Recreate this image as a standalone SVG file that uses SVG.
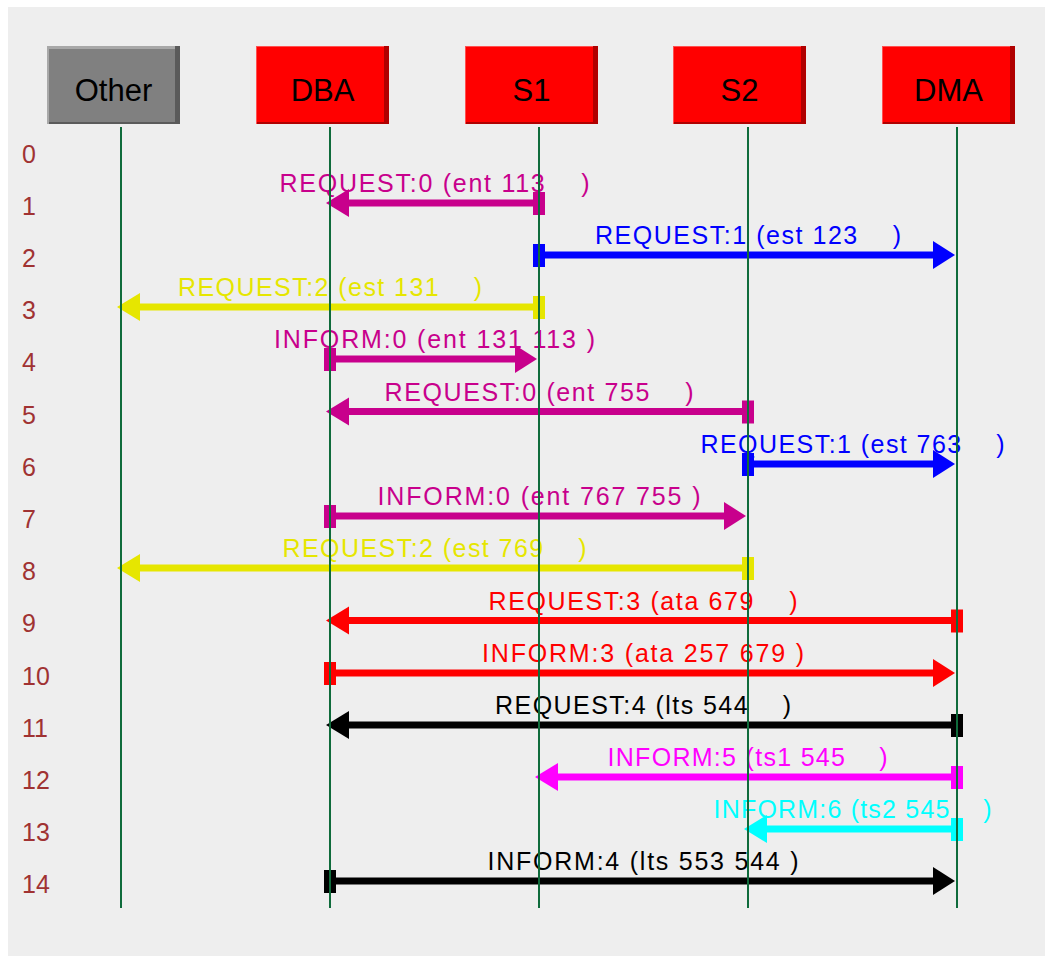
<svg xmlns="http://www.w3.org/2000/svg" width="1056" height="957" viewBox="0 0 1056 957">
  <style>
    .panel { fill: #eeeeee; }
    .lifeline { stroke: #0f6b3b; stroke-width: 2; }
    .box-red { fill: #ff0000; }
    .box-red-hi { fill: #ff5050; }
    .box-red-shade { fill: #b00000; }
    .box-grey { fill: #808080; }
    .box-grey-hi { fill: #a8a8a8; }
    .box-grey-shade { fill: #5a5a5a; }
    .node-label { font-family: "Liberation Sans", Arial, sans-serif; font-size: 31px; fill: #000; text-anchor: middle; }
    .row-num { font-family: "Liberation Sans", Arial, sans-serif; font-size: 25px; fill: #a03232; }
    .msg line { stroke: currentColor; stroke-width: 7; }
    .msg polygon, .msg rect { fill: currentColor; }
    .msg text { fill: currentColor; font-family: "Liberation Sans", Arial, sans-serif; font-size: 25px; text-anchor: middle; white-space: pre; }
    .mag { color: #c8008c; }
    .blue { color: #0000ff; }
    .yellow { color: #e6e600; }
    .red { color: #ff0000; }
    .black { color: #000000; }
    .pink { color: #ff00ff; }
    .cyan { color: #00ffff; }
  </style>

  <!-- backdrop -->
  <rect x="0" y="0" width="1056" height="957" fill="#ffffff"/>
  <rect class="panel" x="8" y="7" width="1037" height="949"/>

  <!-- step numbers -->
  <g id="steps">
    <text class="row-num" x="22" y="162.5">0</text>
    <text class="row-num" x="22" y="214.7">1</text>
    <text class="row-num" x="22" y="266.9">2</text>
    <text class="row-num" x="22" y="319.1">3</text>
    <text class="row-num" x="22" y="371.3">4</text>
    <text class="row-num" x="22" y="423.5">5</text>
    <text class="row-num" x="22" y="475.7">6</text>
    <text class="row-num" x="22" y="527.9">7</text>
    <text class="row-num" x="22" y="580.1">8</text>
    <text class="row-num" x="22" y="632.3">9</text>
    <text class="row-num" x="22" y="684.5">10</text>
    <text class="row-num" x="22" y="736.7">11</text>
    <text class="row-num" x="22" y="788.9">12</text>
    <text class="row-num" x="22" y="841.1">13</text>
    <text class="row-num" x="22" y="893.3">14</text>
  </g>

  <!-- messages -->
  <g id="connectors">
    <!-- 1: S1 -> DBA -->
    <g class="msg mag">
      <text x="434.5" y="192" textLength="310" xml:space="preserve">REQUEST:0 (ent 113    )</text>
      <line x1="539" y1="203" x2="345" y2="203"/>
      <rect x="533" y="192" width="12" height="23"/>
      <polygon points="326,203 349,189 349,217"/>
    </g>
    <!-- 2: S1 -> DMA -->
    <g class="msg blue">
      <text x="748" y="244" textLength="306" xml:space="preserve">REQUEST:1 (est 123    )</text>
      <line x1="539" y1="255" x2="937" y2="255"/>
      <rect x="533" y="244" width="12" height="23"/>
      <polygon points="955,255 933,241 933,269"/>
    </g>
    <!-- 3: S1 -> Other -->
    <g class="msg yellow">
      <text x="330" y="296" textLength="304" xml:space="preserve">REQUEST:2 (est 131    )</text>
      <line x1="539" y1="307" x2="136" y2="307"/>
      <rect x="533" y="296" width="12" height="23"/>
      <polygon points="117,307 140,293 140,321"/>
    </g>
    <!-- 4: DBA -> S1 -->
    <g class="msg mag">
      <text x="434.5" y="348" textLength="321" xml:space="preserve">INFORM:0 (ent 131 113 )</text>
      <line x1="330" y1="359" x2="520" y2="359"/>
      <rect x="324" y="348" width="12" height="23"/>
      <polygon points="537,359 515,345 515,373"/>
    </g>
    <!-- 5: S2 -> DBA -->
    <g class="msg mag">
      <text x="539" y="400.5" textLength="309" xml:space="preserve">REQUEST:0 (ent 755    )</text>
      <line x1="748" y1="411.5" x2="345" y2="411.5"/>
      <rect x="742" y="400.5" width="12" height="23"/>
      <polygon points="326,411.5 349,397.5 349,425.5"/>
    </g>
    <!-- 6: S2 -> DMA -->
    <g class="msg blue">
      <text x="852.5" y="453" textLength="304" xml:space="preserve">REQUEST:1 (est 763    )</text>
      <line x1="748" y1="464" x2="937" y2="464"/>
      <rect x="742" y="453" width="12" height="23"/>
      <polygon points="955,464 933,450 933,478"/>
    </g>
    <!-- 7: DBA -> S2 -->
    <g class="msg mag">
      <text x="539" y="505" textLength="323" xml:space="preserve">INFORM:0 (ent 767 755 )</text>
      <line x1="330" y1="516" x2="729" y2="516"/>
      <rect x="324" y="505" width="12" height="23"/>
      <polygon points="746,516 724,502 724,530"/>
    </g>
    <!-- 8: S2 -> Other -->
    <g class="msg yellow">
      <text x="434.5" y="557" textLength="304" xml:space="preserve">REQUEST:2 (est 769    )</text>
      <line x1="748" y1="568" x2="136" y2="568"/>
      <rect x="742" y="557" width="12" height="23"/>
      <polygon points="117,568 140,554 140,582"/>
    </g>
    <!-- 9: DMA -> DBA -->
    <g class="msg red">
      <text x="643" y="609.5" textLength="309" xml:space="preserve">REQUEST:3 (ata 679    )</text>
      <line x1="957" y1="620.5" x2="345" y2="620.5"/>
      <rect x="951" y="609.5" width="12" height="23"/>
      <polygon points="326,620.5 349,606.5 349,634.5"/>
    </g>
    <!-- 10: DBA -> DMA -->
    <g class="msg red">
      <text x="643" y="662" textLength="322" xml:space="preserve">INFORM:3 (ata 257 679 )</text>
      <line x1="330" y1="673" x2="937" y2="673"/>
      <rect x="324" y="662" width="12" height="23"/>
      <polygon points="955,673 933,659 933,687"/>
    </g>
    <!-- 11: DMA -> DBA -->
    <g class="msg black">
      <text x="643" y="714" textLength="296" xml:space="preserve">REQUEST:4 (lts 544    )</text>
      <line x1="957" y1="725" x2="345" y2="725"/>
      <rect x="951" y="714" width="12" height="23"/>
      <polygon points="326,725 349,711 349,739"/>
    </g>
    <!-- 12: DMA -> S1 -->
    <g class="msg pink">
      <text x="747.5" y="766" textLength="280" xml:space="preserve">INFORM:5 (ts1 545    )</text>
      <line x1="957" y1="777" x2="554" y2="777"/>
      <rect x="951" y="766" width="12" height="23"/>
      <polygon points="535,777 558,763 558,791"/>
    </g>
    <!-- 13: DMA -> S2 -->
    <g class="msg cyan">
      <text x="852.5" y="818" textLength="278" xml:space="preserve">INFORM:6 (ts2 545    )</text>
      <line x1="957" y1="829" x2="763" y2="829"/>
      <rect x="951" y="818" width="12" height="23"/>
      <polygon points="744,829 767,815 767,843"/>
    </g>
    <!-- 14: DBA -> DMA -->
    <g class="msg black">
      <text x="643" y="870" textLength="311" xml:space="preserve">INFORM:4 (lts 553 544 )</text>
      <line x1="330" y1="881" x2="937" y2="881"/>
      <rect x="324" y="870" width="12" height="23"/>
      <polygon points="955,881 933,867 933,895"/>
    </g>
  </g>

  <!-- participants: header box + lifeline -->
  <g id="node-other">
    <rect class="box-grey-hi" x="47" y="46" width="133" height="78"/>
    <rect class="box-grey" x="49" y="49" width="126" height="73"/>
    <rect class="box-grey-shade" x="175" y="46" width="5" height="78"/>
    <rect class="box-grey-shade" x="49" y="122" width="131" height="2"/>
    <text class="node-label" x="113.5" y="101">Other</text>
    <line class="lifeline" x1="121" y1="127" x2="121" y2="908"/>
  </g>
  <g id="node-dba">
    <rect class="box-red-hi" x="256" y="46" width="133" height="78"/>
    <rect class="box-red" x="257" y="47" width="127" height="75"/>
    <rect class="box-red-shade" x="384" y="46" width="5" height="78"/>
    <rect class="box-red-shade" x="257" y="122" width="132" height="2"/>
    <text class="node-label" x="322.5" y="101">DBA</text>
    <line class="lifeline" x1="330" y1="127" x2="330" y2="908"/>
  </g>
  <g id="node-s1">
    <rect class="box-red-hi" x="465" y="46" width="133" height="78"/>
    <rect class="box-red" x="466" y="47" width="127" height="75"/>
    <rect class="box-red-shade" x="593" y="46" width="5" height="78"/>
    <rect class="box-red-shade" x="466" y="122" width="132" height="2"/>
    <text class="node-label" x="531.5" y="101">S1</text>
    <line class="lifeline" x1="539" y1="127" x2="539" y2="908"/>
  </g>
  <g id="node-s2">
    <rect class="box-red-hi" x="673" y="46" width="133" height="78"/>
    <rect class="box-red" x="674" y="47" width="127" height="75"/>
    <rect class="box-red-shade" x="801" y="46" width="5" height="78"/>
    <rect class="box-red-shade" x="674" y="122" width="132" height="2"/>
    <text class="node-label" x="739.5" y="101">S2</text>
    <line class="lifeline" x1="748" y1="127" x2="748" y2="908"/>
  </g>
  <g id="node-dma">
    <rect class="box-red-hi" x="882" y="46" width="133" height="78"/>
    <rect class="box-red" x="883" y="47" width="127" height="75"/>
    <rect class="box-red-shade" x="1010" y="46" width="5" height="78"/>
    <rect class="box-red-shade" x="883" y="122" width="132" height="2"/>
    <text class="node-label" x="948.5" y="101">DMA</text>
    <line class="lifeline" x1="957" y1="127" x2="957" y2="908"/>
  </g>
</svg>
